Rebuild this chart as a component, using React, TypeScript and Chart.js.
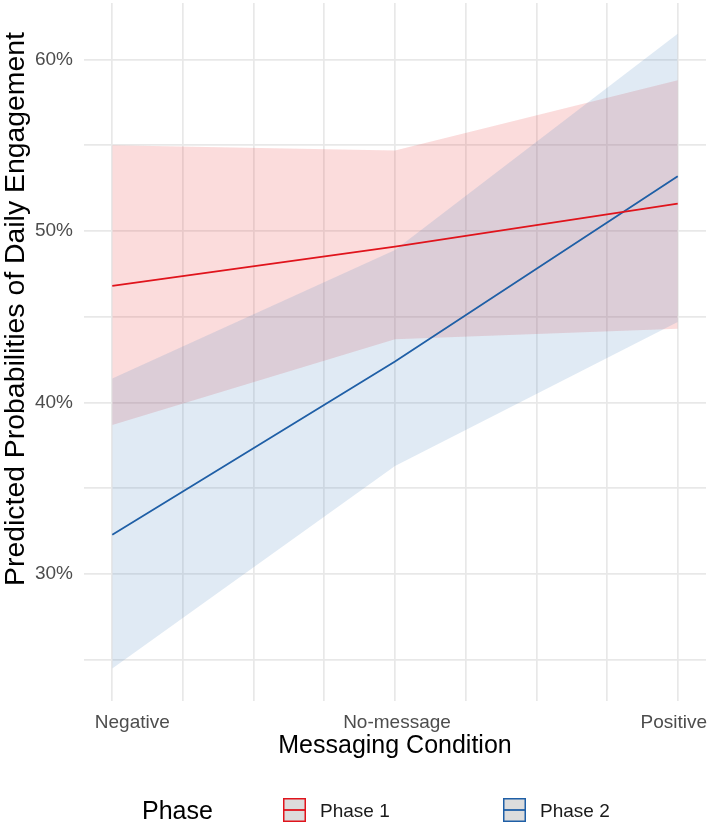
import React, { useEffect, useRef } from 'react';
import { Chart, registerables } from 'chart.js';

Chart.register(...registerables);

// ---- data ----
const categories = ['Negative', 'No-message', 'Positive'];
const categoryPositions = [1, 2, 3];
const seriesNames = ['Phase 1', 'Phase 2'];
const phase1Fit = [46.8, 49.1, 51.6];
const phase1Lower = [38.7, 43.7, 44.3];
const phase1Upper = [55.0, 54.7, 58.8];
const phase2Fit = [32.3, 42.4, 53.2];
const phase2Lower = [24.5, 36.3, 44.7];
const phase2Upper = [41.4, 48.9, 61.5];
const yGridValues = [25, 30, 35, 40, 45, 50, 55, 60];
const yLabelValues = [30, 40, 50, 60];
const xGridValues = [1, 1.25, 1.5, 1.75, 2, 2.25, 2.5, 2.75, 3];

// ---- style ----
const FONT = '"Liberation Sans", Arial, Helvetica, sans-serif';
const RED = '#E0141C';
const BLUE = '#1F5FA6';
const RED_FILL = 'rgba(235, 60, 60, 0.18)';
const BLUE_FILL = 'rgba(70, 130, 190, 0.17)';
const GRID = '#E8E8E8';
const xLabelNudge = [20, 2, -4];

const pts = (arr: number[]) => categoryPositions.map((x, i) => ({ x, y: arr[i] }));

const textPlugin = {
  id: 'textPlugin',
  afterDraw(chart: any) {
    const ctx = chart.ctx as CanvasRenderingContext2D;
    const xs = chart.scales.x;
    ctx.save();
    // x tick labels
    ctx.font = `19px ${FONT}`;
    ctx.fillStyle = '#4D4D4D';
    ctx.textAlign = 'center';
    ctx.textBaseline = 'alphabetic';
    categories.forEach((c, i) => {
      ctx.fillText(c, xs.getPixelForValue(categoryPositions[i]) + xLabelNudge[i], 728);
    });
    // x title
    ctx.font = `25px ${FONT}`;
    ctx.fillStyle = '#000000';
    ctx.fillText('Messaging Condition', xs.getPixelForValue(categoryPositions[1]), 753);
    // y title
    ctx.save();
    ctx.translate(24, 309);
    ctx.rotate(-Math.PI / 2);
    ctx.font = `28.4px ${FONT}`;
    ctx.textAlign = 'center';
    ctx.fillText('Predicted Probabilities of Daily Engagement', 0, 0);
    ctx.restore();
    // legend
    ctx.textAlign = 'left';
    ctx.font = `25px ${FONT}`;
    ctx.fillStyle = '#000000';
    ctx.fillText('Phase', 142, 819);
    const keyX = [283, 503];
    const colors = [RED, BLUE];
    seriesNames.forEach((name, i) => {
      const x0 = keyX[i];
      ctx.fillStyle = '#DCDCDC';
      ctx.fillRect(x0, 798, 23, 24);
      ctx.strokeStyle = colors[i];
      ctx.lineWidth = 1.5;
      ctx.strokeRect(x0 + 0.75, 798.75, 21.5, 22.5);
      ctx.beginPath();
      ctx.lineWidth = 1.8;
      ctx.moveTo(x0 + 1, 810);
      ctx.lineTo(x0 + 22, 810);
      ctx.stroke();
      ctx.font = `19px ${FONT}`;
      ctx.fillStyle = '#1A1A1A';
      ctx.fillText(name, x0 + 37, 817);
    });
    ctx.restore();
  },
};

export default function App() {
  const ref = useRef<HTMLCanvasElement>(null);
  useEffect(() => {
    if (!ref.current) return;
    const hidden = 'rgba(0,0,0,0)';
    const chart = new Chart(ref.current, {
      type: 'line',
      data: {
        datasets: [
          { label: seriesNames[0], data: pts(phase1Fit), borderColor: RED, borderWidth: 1.8, pointRadius: 0, fill: false, order: 1, tension: 0 },
          { label: seriesNames[1], data: pts(phase2Fit), borderColor: BLUE, borderWidth: 1.8, pointRadius: 0, fill: false, order: 1, tension: 0 },
          { label: 'p1u', data: pts(phase1Upper), borderColor: hidden, borderWidth: 0, pointRadius: 0, backgroundColor: RED_FILL, fill: '+1', order: 3 },
          { label: 'p1l', data: pts(phase1Lower), borderColor: hidden, borderWidth: 0, pointRadius: 0, fill: false, order: 3 },
          { label: 'p2u', data: pts(phase2Upper), borderColor: hidden, borderWidth: 0, pointRadius: 0, backgroundColor: BLUE_FILL, fill: '+1', order: 2 },
          { label: 'p2l', data: pts(phase2Lower), borderColor: hidden, borderWidth: 0, pointRadius: 0, fill: false, order: 2 },
        ],
      },
      options: {
        responsive: false,
        animation: false,
        events: [],
        layout: { padding: { top: 3, right: 3, left: 0, bottom: 0 } },
        plugins: { legend: { display: false }, tooltip: { enabled: false } },
        scales: {
          x: {
            type: 'linear',
            min: 0.9,
            max: 3.1,
            border: { display: false },
            grid: { color: GRID, lineWidth: 1.7, drawTicks: false },
            ticks: { display: false },
            afterBuildTicks: (s: any) => { s.ticks = xGridValues.map((v) => ({ value: v })); },
            afterFit: (s: any) => { s.height = 124; s.paddingLeft = 0; s.paddingRight = 0; },
          },
          y: {
            type: 'linear',
            min: 22.6,
            max: 63.3,
            border: { display: false },
            grid: { color: GRID, lineWidth: 1.7, drawTicks: false },
            ticks: {
              padding: 11,
              color: '#4D4D4D',
              font: { family: FONT, size: 19 },
              callback: (v: any) => (yLabelValues.includes(Number(v)) ? `${v}%` : ''),
            },
            afterBuildTicks: (s: any) => { s.ticks = yGridValues.map((v) => ({ value: v })); },
            afterFit: (s: any) => { s.width = 84; s.paddingTop = 0; s.paddingBottom = 0; },
          },
        },
      },
      plugins: [textPlugin],
    } as any);
    return () => chart.destroy();
  }, []);
  return (
    <div style={{ position: 'absolute', left: 0, top: 0, width: 709, height: 825, background: '#FFFFFF' }}>
      <canvas ref={ref} width={709} height={825} style={{ display: 'block' }} />
    </div>
  );
}
